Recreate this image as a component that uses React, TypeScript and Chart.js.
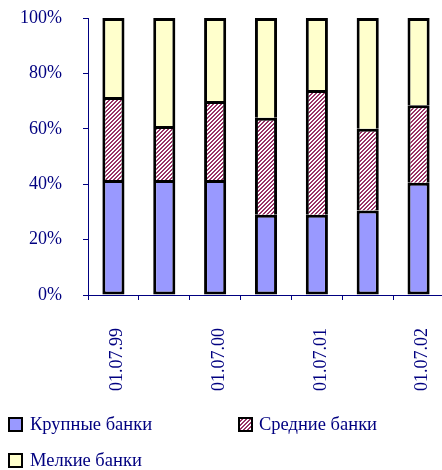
import React, { useEffect, useRef } from "react";
import { Chart, registerables } from "chart.js";

Chart.register(...registerables);

const categories = ["01.07.99", "01.01.00", "01.07.00", "01.01.01", "01.07.01", "01.01.02", "01.07.02"];
const seriesNames = ["Крупные банки", "Средние банки", "Мелкие банки"];
const largeBanks = [41.5, 41.5, 41.5, 29, 29, 30.5, 40.5];
const mediumBanks = [30, 19.5, 28.5, 35, 45, 29.5, 28];
const smallBanks = [28.5, 39, 30, 36, 26, 40, 31.5];
const yTicks = [0, 20, 40, 60, 80, 100];

const NAVY = "#000080";
const FONT = '"Liberation Serif", "Times New Roman", serif';

function makeHatch(): CanvasPattern | string {
  const c = document.createElement("canvas");
  c.width = 4;
  c.height = 4;
  const ctx = c.getContext("2d");
  if (!ctx) return "#993366";
  const img = ctx.createImageData(4, 4);
  for (let y = 0; y < 4; y++) {
    for (let x = 0; x < 4; x++) {
      const i = (y * 4 + x) * 4;
      const on = (x + y) % 4 < 2;
      img.data[i] = on ? 0x99 : 255;
      img.data[i + 1] = on ? 0x33 : 255;
      img.data[i + 2] = on ? 0x66 : 255;
      img.data[i + 3] = 255;
    }
  }
  ctx.putImageData(img, 0, 0);
  return ctx.createPattern(c, "repeat") || "#993366";
}

export default function App() {
  const ref = useRef<HTMLCanvasElement | null>(null);

  useEffect(() => {
    if (!ref.current) return;
    const hatch = makeHatch();
    const fills: (string | CanvasPattern)[] = ["#9999FF", hatch, "#FFFFCC"];
    const legendPos = [
      { bx: 9, by: 418, tx: 30, ty: 425 },
      { bx: 239, by: 418, tx: 259, ty: 425 },
      { bx: 9, by: 454, tx: 30, ty: 461 },
    ];

    const legendPlugin = {
      id: "customLegend",
      afterDraw(chart: any) {
        const ctx = chart.ctx as CanvasRenderingContext2D;
        ctx.save();
        seriesNames.forEach((name, i) => {
          const p = legendPos[i];
          ctx.fillStyle = fills[i] as any;
          ctx.fillRect(p.bx, p.by, 13, 13);
          ctx.lineWidth = 2;
          ctx.strokeStyle = "#000";
          ctx.strokeRect(p.bx, p.by, 13, 13);
          ctx.fillStyle = NAVY;
          ctx.font = `18.5px ${FONT}`;
          ctx.textBaseline = "middle";
          ctx.textAlign = "left";
          ctx.fillText(name, p.tx, p.ty);
        });
        ctx.restore();
      },
    };

    const mk = (label: string, data: number[], i: number) => ({
      label,
      data,
      backgroundColor: fills[i] as any,
      borderColor: "#000",
      borderWidth: 3,
      borderSkipped: i === 0 ? false : "start",
      barPercentage: 0.435,
      categoryPercentage: 1,
    });

    const chart = new Chart(ref.current, {
      type: "bar",
      data: {
        labels: categories,
        datasets: [
          mk(seriesNames[0], largeBanks, 0),
          mk(seriesNames[1], mediumBanks, 1),
          mk(seriesNames[2], smallBanks, 2),
        ] as any,
      },
      options: {
        animation: false,
        responsive: false,
        devicePixelRatio: 1,
        layout: { padding: { top: 18, left: 0, right: 0, bottom: 0 } },
        plugins: { legend: { display: false }, tooltip: { enabled: false } },
        scales: {
          x: {
            stacked: true,
            offset: true,
            afterFit(scale: any) {
              scale.height = 175;
              scale.paddingLeft = 0;
              scale.paddingRight = 0;
            },
            grid: {
              offset: true,
              drawOnChartArea: false,
              drawTicks: true,
              tickLength: 5,
              tickColor: NAVY,
            },
            border: { display: true, color: NAVY, width: 1 },
            ticks: {
              autoSkip: false,
              maxRotation: 90,
              minRotation: 90,
              padding: 28,
              labelOffset: 4,
              color: NAVY,
              font: { family: FONT, size: 18 },
              callback: (_v: any, i: number) => (i % 2 === 0 ? categories[i] : ""),
            },
          },
          y: {
            stacked: true,
            min: 0,
            max: 100,
            afterFit(scale: any) {
              scale.width = 88;
              scale.paddingTop = 0;
              scale.paddingBottom = 0;
            },
            afterBuildTicks(scale: any) {
              scale.ticks = yTicks.map((v) => ({ value: v }));
            },
            grid: {
              drawOnChartArea: false,
              drawTicks: true,
              tickLength: 5,
              tickColor: NAVY,
            },
            border: { display: true, color: NAVY, width: 1 },
            ticks: {
              padding: 21,
              color: NAVY,
              font: { family: FONT, size: 18 },
              callback: (v: any) => `${v}%`,
            },
          },
        },
      },
      plugins: [legendPlugin],
    });

    return () => chart.destroy();
  }, []);

  return (
    <div style={{ position: "absolute", left: 0, top: 0, width: 442, height: 470, overflow: "hidden", background: "#fff" }}>
      <canvas ref={ref} width={444} height={470} style={{ width: 444, height: 470, display: "block" }} />
    </div>
  );
}
